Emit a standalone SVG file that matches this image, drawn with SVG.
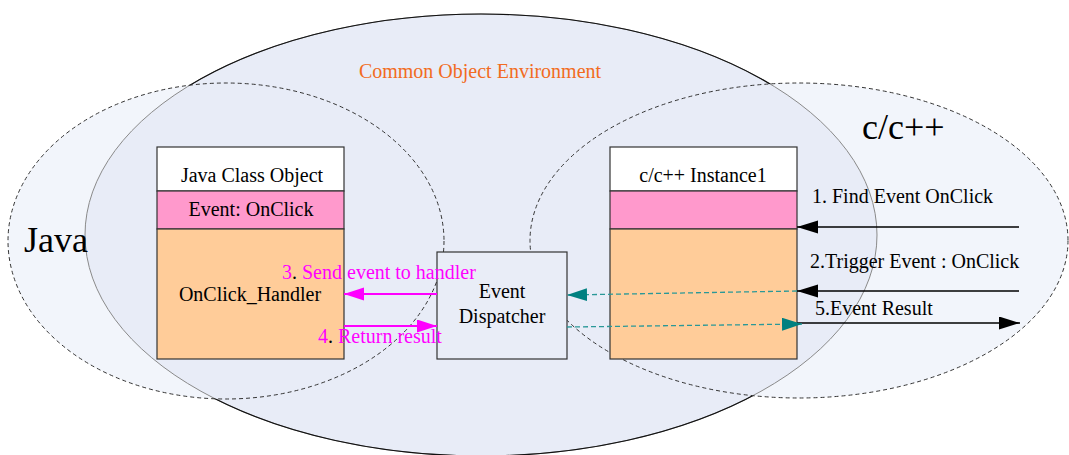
<svg xmlns="http://www.w3.org/2000/svg" width="1069" height="455" viewBox="0 0 1069 455" font-family="'Liberation Serif', 'Times New Roman', 'DejaVu Serif', serif">
<style>
text{font-family:'Liberation Serif','Times New Roman','DejaVu Serif',serif;font-size:20px;fill:#000}
.box{stroke:#333;stroke-width:1.2}
.dash{fill:none;stroke:#333;stroke-width:1;stroke-dasharray:4 3}
.blk{stroke:#000;stroke-width:1.3;fill:none}
.mag{stroke:#ff00ff;stroke-width:2;fill:none}
.teal{stroke:#2a9898;stroke-width:1.3;stroke-dasharray:5 3;fill:none}
.m{fill:#ff00ff}
</style>
<defs>
<marker id="ab" markerUnits="userSpaceOnUse" markerWidth="22" markerHeight="14" refX="21" refY="6.5" orient="auto"><path d="M0,0 L21,6.5 L0,13 z" fill="#000"/></marker>
<marker id="am" markerUnits="userSpaceOnUse" markerWidth="22" markerHeight="14" refX="20" refY="6.5" orient="auto"><path d="M0,0 L20,6.5 L0,13 z" fill="#ff00ff"/></marker>
<marker id="at" markerUnits="userSpaceOnUse" markerWidth="22" markerHeight="14" refX="20" refY="6.5" orient="auto"><path d="M0,0 L20,6.5 L0,13 z" fill="#008080"/></marker>
<mask id="outside">
<rect x="0" y="0" width="1069" height="455" fill="#fff"/>
<ellipse cx="226" cy="241" rx="218" ry="158" fill="#000"/>
<ellipse cx="799" cy="240.5" rx="269" ry="157.5" fill="#000"/>
</mask>
</defs>
<g id="regions">
<ellipse cx="226" cy="241" rx="218" ry="158" fill="#f2f5fb"/>
<ellipse cx="799" cy="240.5" rx="269" ry="157.5" fill="#f2f5fb"/>
<ellipse cx="481" cy="235" rx="396" ry="221" fill="#e8ecf7" stroke="#8a8a8a" stroke-width="1"/>
<ellipse cx="481" cy="235" rx="396" ry="221" fill="none" stroke="#111" stroke-width="1.2" mask="url(#outside)"/>
<ellipse class="dash" cx="226" cy="241" rx="218" ry="158"/>
<ellipse class="dash" cx="799" cy="240.5" rx="269" ry="157.5"/>
<text x="480" y="78" text-anchor="middle" fill="#f26b21" style="fill:#f26b21">Common Object Environment</text>
<text x="24" y="252" font-size="36" style="font-size:36px">Java</text>
<text x="862" y="139" font-size="36" style="font-size:36px">c/c++</text>
</g>
<g id="java-class-object">
<rect class="box" x="157" y="147" width="187" height="44" fill="#fff"/>
<rect class="box" x="157" y="191" width="187" height="38" fill="#ff99cc"/>
<rect class="box" x="157" y="229" width="187" height="130" fill="#ffcc99"/>
<text x="252" y="182" text-anchor="middle">Java Class Object</text>
<text x="251" y="216" text-anchor="middle">Event: OnClick</text>
<text x="250" y="301" text-anchor="middle">OnClick_Handler</text>
</g>
<g id="cpp-instance">
<rect class="box" x="610" y="147" width="187" height="44" fill="#fff"/>
<rect class="box" x="610" y="191" width="187" height="38" fill="#ff99cc"/>
<rect class="box" x="610" y="229" width="187" height="130" fill="#ffcc99"/>
<text x="703" y="182" text-anchor="middle">c/c++ Instance1</text>
</g>
<g id="event-dispatcher">
<rect class="box" x="437" y="252" width="130" height="107" fill="#e9edf7"/>
<text x="502" y="298" text-anchor="middle">Event</text>
<text x="502" y="323" text-anchor="middle">Dispatcher</text>
</g>
<g id="connectors">
<path class="mag" d="M437,294 L344,294" marker-end="url(#am)"/>
<path class="mag" d="M344,326 L437,326" marker-end="url(#am)"/>
<path class="blk" d="M1019,227 L797,227" marker-end="url(#ab)"/>
<path class="blk" d="M1019,291 L797,291" marker-end="url(#ab)"/>
<path class="blk" d="M797,323 L1020,323" marker-end="url(#ab)"/>
<path class="teal" d="M797,291 L567,295" marker-end="url(#at)"/>
<path class="teal" d="M567,327 L802,324" marker-end="url(#at)"/>
<text x="282" y="279"><tspan class="m">3</tspan>. <tspan class="m">Send event to handler</tspan></text>
<text x="318" y="343"><tspan class="m">4</tspan>. <tspan class="m">Return result</tspan></text>
<text x="812" y="203">1. Find Event OnClick</text>
<text x="810" y="268">2.Trigger Event : OnClick</text>
<text x="815" y="315">5.Event Result</text>
</g>
</svg>
